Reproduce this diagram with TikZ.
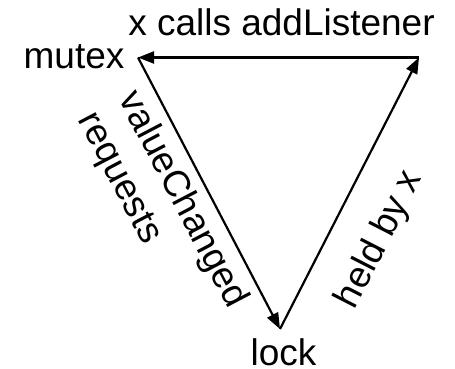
\documentclass[tikz,border=0pt]{standalone}
\usepackage{fontspec}
\setmainfont{Liberation Sans}
\usetikzlibrary{arrows.meta}
\begin{document}
\begin{tikzpicture}[x=1pt, y=-1pt,
  every node/.style={font=\fontsize{37}{45.5}\selectfont, inner sep=0pt},
  arr/.style={line width=2.2pt, -{Triangle[length=16pt, width=12pt]}}]
\useasboundingbox (0,0) rectangle (455,369);
\coordinate (mutexpt) at (138,57.5);
\coordinate (listenpt) at (419,57.5);
\coordinate (lockpt) at (280,329);
\node[anchor=base] (mutex) at (74,68) {mutex};
\node[anchor=base] (lock) at (283.5,365) {lock};
\node[anchor=base] (calls) at (281.5,36) {x calls addListener};
\node[rotate=-62.4, align=left] (requests) at (161.8,210.6) {valueChanged\\requests};
\node[rotate=62.9, anchor=base] (held) at (388.4,244.3) {held by x};
\draw[arr] (listenpt) -- (mutexpt);
\draw[arr] (mutexpt) -- (lockpt);
\draw[arr] (lockpt) -- (listenpt);
\end{tikzpicture}
\end{document}
